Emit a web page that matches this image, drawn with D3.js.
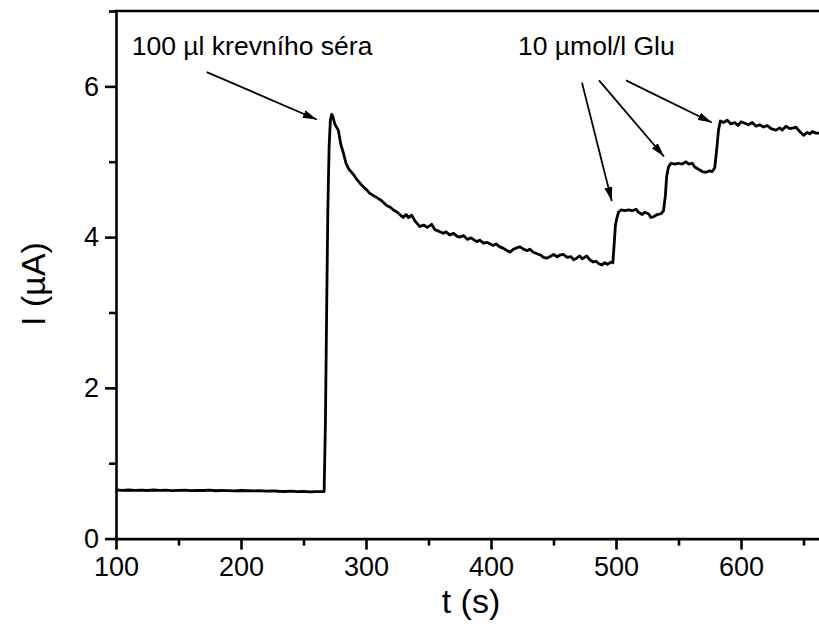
<!DOCTYPE html>
<html>
<head>
<meta charset="utf-8">
<script src="https://cdn.jsdelivr.net/npm/d3@7"></script>
<style>
  body { margin: 0; background: #fff; }
  svg { display: block; }
  .axis path, .axis line { stroke: #000; stroke-width: 2.6; }
</style>
</head>
<body>
<div id="chart"></div>
<script>
// time (s) and current (uA)
const times = [
  100,105,110,115,120,125,130,135,140,145,150,155,160,165,170,175,180,185,190,195,
  200,205,210,215,220,225,230,235,240,245,250,255,260,265,266.5,
  267.5,268.5,269.5,270.5,271.5,272.5,273.5,275,277.8,280,282,284,286,288,290,
  292,294,296.5,299,301,303,306,309,312,314,316.5,319,322,325,327,329.7,332,334,336.5,339,
  341,343,346,349,352.5,355,358,361.8,364,367,370,373,375,378,381,384,388.5,391,394,397,
  401.8,404,407,410,413,415.2,418,421,423.2,426,429,431,433.8,437,440,442,444.5,447,450,453,
  455,457.8,461,464,466,468.5,471,473,476.5,479,481.8,484,486,488.5,491,493,496.5,497.5,
  498.5,499.5,500.5,502,504,507,510,513,516,518,521,523,526,528,530,533,536,538,
  539.5,540.5,542,544,547,550,553,556,558,561,563,566,569,572,575,577,579,
  580.5,582,583.5,586,589,592,595,597.5,600,603,606,609,612,615,618,621,624,628,631,633,
  636,639,642,644,647,650,653,655,657,660,663,666
];
const current = [
  .645,.64,.645,.64,.643,.638,.645,.64,.642,.637,.64,.643,.636,.64,.638,.642,.635,.64,.637,.633,
  .638,.635,.632,.636,.63,.634,.628,.625,.63,.622,.627,.62,.624,.622,.625,
  1.5,3.0,4.4,5.2,5.55,5.63,5.6,5.5,5.42,5.22,5.11,4.98,4.91,4.87,4.83,
  4.78,4.74,4.69,4.65,4.62,4.58,4.55,4.52,4.49,4.46,4.42,4.40,4.36,4.33,4.30,4.26,4.30,4.26,4.29,4.22,
  4.18,4.14,4.16,4.13,4.17,4.10,4.08,4.05,4.07,4.03,4.05,4.01,4.00,4.02,3.97,3.99,3.94,3.96,3.92,3.93,
  3.89,3.91,3.87,3.85,3.82,3.80,3.84,3.86,3.87,3.84,3.82,3.84,3.80,3.78,3.76,3.73,3.72,3.74,3.77,3.74,
  3.76,3.77,3.73,3.74,3.70,3.72,3.75,3.71,3.75,3.70,3.67,3.68,3.65,3.63,3.66,3.64,3.67,3.66,
  3.9,4.15,4.24,4.33,4.36,4.35,4.36,4.35,4.37,4.33,4.30,4.33,4.31,4.26,4.27,4.30,4.31,4.35,
  4.55,4.80,4.93,4.98,4.97,4.98,4.97,5.00,4.97,4.98,4.93,4.90,4.87,4.86,4.88,4.87,4.92,
  5.15,5.42,5.54,5.52,5.55,5.50,5.52,5.48,5.53,5.51,5.49,5.52,5.47,5.49,5.46,5.48,5.44,5.42,5.45,5.42,
  5.47,5.44,5.45,5.46,5.40,5.35,5.39,5.37,5.40,5.38,5.38,5.36
];

const xMajor = [100, 200, 300, 400, 500, 600];
const xMinor = [150, 250, 350, 450, 550, 650];
const yMajor = [0, 2, 4, 6];
const yMinor = [1, 3, 5, 7];

// annotations: [t, I] of label, arrows from -> to
const labels = [
  { text: "100 µl krevního séra", t: 112.6, i: 6.41 },
  { text: "10 µmol/l Glu", t: 421.6, i: 6.42 }
];
const arrows = [
  [[172.6, 6.19], [260.6, 5.56]],
  [[472.8, 6.05], [496.6, 4.48]],
  [[486.4, 6.08], [538.4, 5.07]],
  [[508.0, 6.08], [576.6, 5.52]]
];

const FONT = "'Liberation Sans', Arial, sans-serif";
const W = 819, H = 637;
const x = d3.scaleLinear().domain([100, 670]).range([116, 828.5]);
const y = d3.scaleLinear().domain([0, 7]).range([538.6, 11]);

const svg = d3.select("#chart").append("svg")
  .attr("width", W).attr("height", H)
  .attr("font-family", FONT);

svg.append("defs").append("marker")
  .attr("id", "head")
  .attr("viewBox", "0 0 14 8")
  .attr("refX", 14).attr("refY", 4)
  .attr("markerWidth", 14).attr("markerHeight", 8)
  .attr("markerUnits", "userSpaceOnUse")
  .attr("orient", "auto")
  .append("path").attr("d", "M0,0L14,4L0,8Z").attr("fill", "#000");

// minor ticks
svg.append("g").attr("class", "axis")
  .attr("transform", "translate(0," + y(0) + ")")
  .call(d3.axisBottom(x).tickValues(xMinor).tickSize(7).tickSizeOuter(0).tickFormat(""))
  .select(".domain").remove();
svg.append("g").attr("class", "axis")
  .attr("transform", "translate(" + x(100) + ",0)")
  .call(d3.axisLeft(y).tickValues(yMinor).tickSize(7).tickSizeOuter(0).tickFormat(""))
  .select(".domain").remove();

// major ticks + axis lines
svg.append("g").attr("class", "axis")
  .attr("transform", "translate(0," + y(0) + ")")
  .call(d3.axisBottom(x).tickValues(xMajor).tickSize(11).tickSizeOuter(0).tickPadding(7).tickFormat(d3.format("d")));

svg.append("g").attr("class", "axis")
  .attr("transform", "translate(" + x(100) + ",0)")
  .call(d3.axisLeft(y).tickValues(yMajor).tickSize(11).tickSizeOuter(0).tickPadding(6).tickFormat(d3.format("d")));

svg.selectAll(".axis").attr("font-family", FONT).attr("font-size", 27);
svg.selectAll(".axis text").attr("fill", "#000");

// top frame
svg.append("line")
  .attr("x1", x(100) - 1.3).attr("x2", x(670))
  .attr("y1", y(7)).attr("y2", y(7))
  .attr("stroke", "#000").attr("stroke-width", 2.6);

// axis titles
svg.append("text")
  .attr("x", 471).attr("y", 613)
  .attr("text-anchor", "middle")
  .attr("font-size", 34)
  .text("t (s)");
svg.append("text")
  .attr("transform", "translate(45,284) rotate(-90)")
  .attr("text-anchor", "middle")
  .attr("font-size", 34)
  .text("I (µA)");

// trace
const data = times.map((t, k) => ({ t: t, i: current[k] }));
const line = d3.line().x(d => x(d.t)).y(d => y(d.i));
svg.append("path")
  .datum(data)
  .attr("d", line)
  .attr("fill", "none")
  .attr("stroke", "#000")
  .attr("stroke-width", 2.8)
  .attr("stroke-linejoin", "round");

// annotations
svg.selectAll(".lbl").data(labels).enter().append("text")
  .attr("class", "lbl")
  .attr("x", d => x(d.t)).attr("y", d => y(d.i))
  .attr("font-size", 26.5)
  .text(d => d.text);

svg.selectAll(".arr").data(arrows).enter().append("line")
  .attr("class", "arr")
  .attr("x1", d => x(d[0][0])).attr("y1", d => y(d[0][1]))
  .attr("x2", d => x(d[1][0])).attr("y2", d => y(d[1][1]))
  .attr("stroke", "#000").attr("stroke-width", 1.8)
  .attr("marker-end", "url(#head)");
</script>
</body>
</html>
